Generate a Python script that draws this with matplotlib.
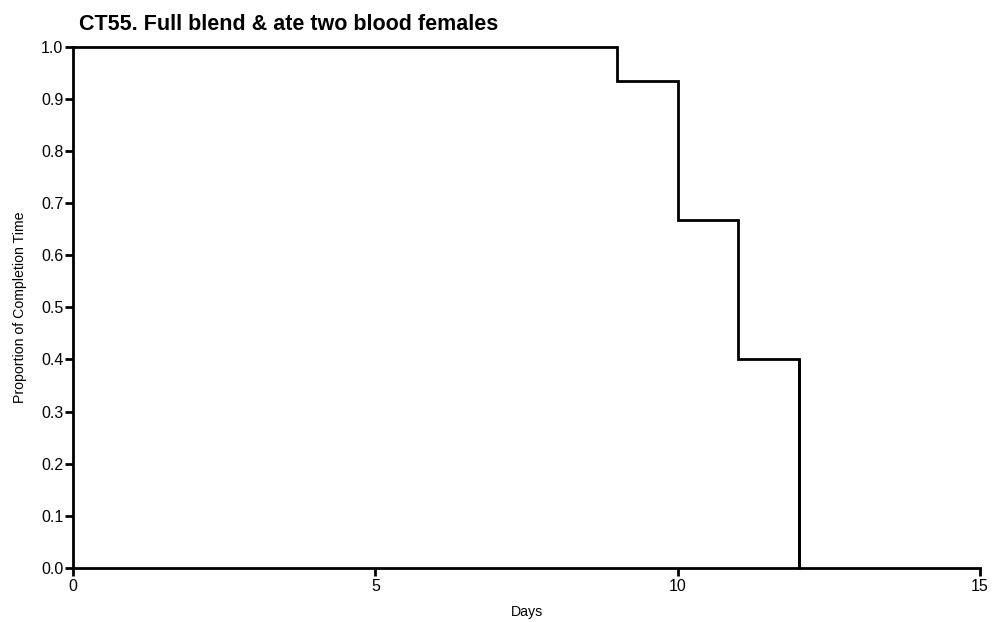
import matplotlib
matplotlib.use('Agg')
import matplotlib.pyplot as plt
import numpy as np

plt.rcParams['font.family'] = ['Liberation Sans', 'DejaVu Sans']

# survival-style step data: fraction remaining at each day
days = [0, 9, 10, 11, 12]
proportion = [1.0, 0.9333, 0.6667, 0.4, 0.0]
title = "CT55. Full blend & ate two blood females"

fig = plt.figure(figsize=(9.92, 6.22), dpi=100)
ax = fig.add_axes([0.0736, 0.0868, 0.9144, 0.8382])

ax.step(days, proportion, where='post', color='black', linewidth=2.0,
        solid_joinstyle='miter', clip_on=False)
ax.vlines(days[-1], 0, proportion[-2], color='black', linewidth=2.0)

ax.set_xlim(0, 15)
ax.set_ylim(0, 1.0)
ax.set_xticks([0, 5, 10, 15])
ax.set_yticks(np.round(np.arange(0, 1.01, 0.1), 1))
ax.set_yticklabels([f"{v:.1f}" for v in np.arange(0, 1.01, 0.1)])

for side in ['top', 'right']:
    ax.spines[side].set_visible(False)
for side in ['left', 'bottom']:
    ax.spines[side].set_linewidth(2.0)
ax.tick_params(direction='out', length=6, width=2.0, labelsize=11.5, pad=1)
ax.tick_params(axis='x', pad=2)

ax.set_xlabel("Days", fontsize=10.2, labelpad=8)
ax.set_ylabel("Proportion of Completion Time", fontsize=10.2, labelpad=10)
fig.text(0.0796, 0.952, title, fontsize=15.5, fontweight='bold', ha='left')

fig.savefig("out.png", dpi=100)
